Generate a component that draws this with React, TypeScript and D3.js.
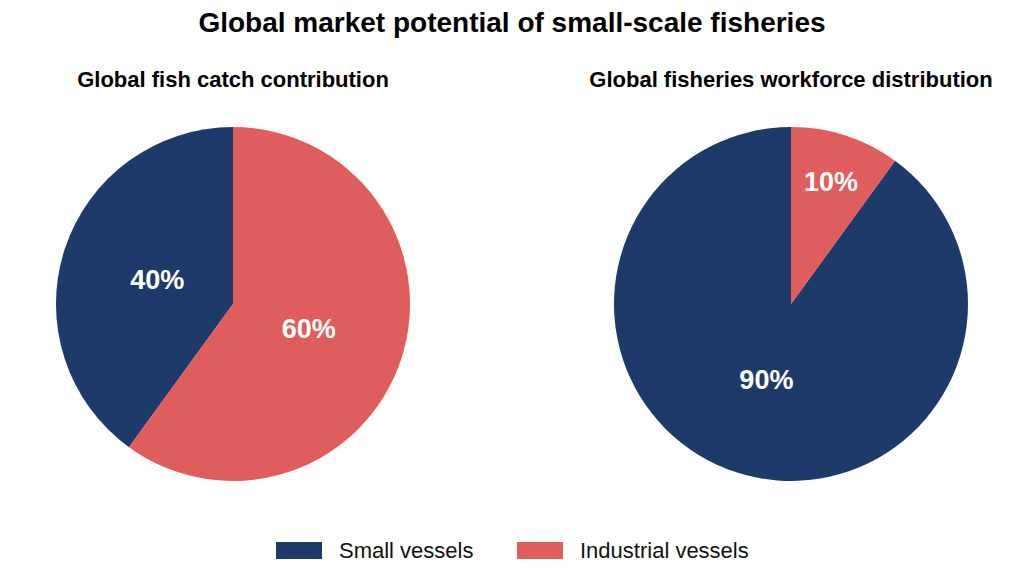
import { useEffect, useRef } from "react";
import * as d3 from "d3";

const categories = ["Small vessels", "Industrial vessels"];
const catchShare = [40, 60];
const workforceShare = [90, 10];
const panelTitles = ["Global fish catch contribution", "Global fisheries workforce distribution"];
const colours = ["#1d3a6b", "#e05d5d"];

const W = 1024;
const H = 583;
const FONT = "Liberation Sans, Arial, sans-serif";

const App = () => {
  const svgRef = useRef<SVGSVGElement>(null);

  useEffect(() => {
    const svg = d3.select(svgRef.current);
    svg.selectAll("*").remove();

    svg
      .append("text")
      .attr("x", W / 2)
      .attr("y", 32)
      .attr("text-anchor", "middle")
      .attr("font-family", FONT)
      .attr("font-weight", "bold")
      .attr("font-size", 28)
      .text("Global market potential of small-scale fisheries");

    const r = 177;
    const centres = [233, 791];
    const pie = d3
      .pie<number>()
      .sort(null)
      .startAngle(0)
      .endAngle(-2 * Math.PI); // counter clockwise from 12 o'clock
    const arc = d3.arc<d3.PieArcDatum<number>>().innerRadius(0).outerRadius(r);

    [catchShare, workforceShare].forEach((values, i) => {
      const g = svg.append("g").attr("transform", `translate(${centres[i]},304)`);

      g.selectAll("path")
        .data(pie(values))
        .join("path")
        .attr("d", arc)
        .attr("fill", (d, j) => colours[j]);

      // label radius: small slices sit further out
      g.selectAll("text.pct")
        .data(pie(values))
        .join("text")
        .attr("class", "pct")
        .attr("transform", (d) => {
          const total = d3.sum(values);
          const k = d.value / total < 0.15 ? 0.73 : 0.45;
          const a = (d.startAngle + d.endAngle) / 2;
          return `translate(${Math.sin(a) * r * k},${-Math.cos(a) * r * k})`;
        })
        .attr("text-anchor", "middle")
        .attr("dy", "0.36em")
        .attr("fill", "white")
        .attr("font-family", FONT)
        .attr("font-weight", "bold")
        .attr("font-size", 27)
        .text((d) => `${d.value}%`);

      svg
        .append("text")
        .attr("x", centres[i])
        .attr("y", 86.5)
        .attr("text-anchor", "middle")
        .attr("font-family", FONT)
        .attr("font-weight", "bold")
        .attr("font-size", 22)
        .text(panelTitles[i]);
    });

    // legend
    const legendX = [276, 517];
    categories.forEach((c, i) => {
      svg
        .append("rect")
        .attr("x", legendX[i])
        .attr("y", 542)
        .attr("width", 46)
        .attr("height", 17)
        .attr("fill", colours[i]);
      svg
        .append("text")
        .attr("x", legendX[i] + 63)
        .attr("y", 557.5)
        .attr("font-family", FONT)
        .attr("font-size", 22)
        .attr("fill", "#111")
        .text(c);
    });
  }, []);

  return (
    <svg
      ref={svgRef}
      width={W}
      height={H}
      style={{ position: "absolute", left: 0, top: 0, background: "white" }}
    />
  );
};

export default App;
